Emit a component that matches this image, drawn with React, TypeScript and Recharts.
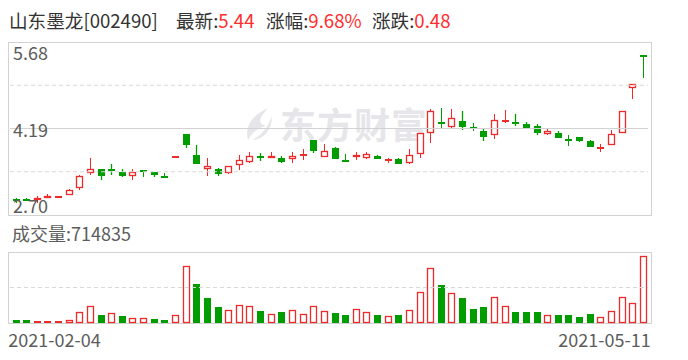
import React from 'react';
import { BarChart, Bar, XAxis, YAxis, ReferenceLine } from 'recharts';

// 山东墨龙 002490 日K, 2021-02-04 ~ 2021-05-11
const dates = [
  '2021-02-04', '2021-02-05', '2021-02-08', '2021-02-09', '2021-02-10', '2021-02-18', '2021-02-19', '2021-02-22',
  '2021-02-23', '2021-02-24', '2021-02-25', '2021-02-26', '2021-03-01', '2021-03-02', '2021-03-03', '2021-03-04',
  '2021-03-05', '2021-03-08', '2021-03-09', '2021-03-10', '2021-03-11', '2021-03-12', '2021-03-15', '2021-03-16',
  '2021-03-17', '2021-03-18', '2021-03-19', '2021-03-22', '2021-03-23', '2021-03-24', '2021-03-25', '2021-03-26',
  '2021-03-29', '2021-03-30', '2021-03-31', '2021-04-01', '2021-04-02', '2021-04-06', '2021-04-07', '2021-04-08',
  '2021-04-09', '2021-04-12', '2021-04-13', '2021-04-14', '2021-04-15', '2021-04-16', '2021-04-19', '2021-04-20',
  '2021-04-21', '2021-04-22', '2021-04-23', '2021-04-26', '2021-04-27', '2021-04-28', '2021-04-29', '2021-04-30',
  '2021-05-06', '2021-05-07', '2021-05-10', '2021-05-11',
];

const openPrices = [
  2.97, 2.97, 2.95, 3.00, 3.02, 3.04, 3.16, 3.43, 3.50, 3.50,
  3.44, 3.37, 3.48, 3.44, 3.38, 3.70, 4.10, 3.73, 3.50, 3.50,
  3.43, 3.56, 3.61, 3.72, 3.69, 3.68, 3.66, 3.74, 3.99, 3.70,
  3.85, 3.65, 3.70, 3.69, 3.72, 3.65, 3.66, 3.59, 3.75, 4.12,
  4.31, 4.21, 4.32, 4.22, 4.15, 4.07, 4.32, 4.30, 4.27, 4.23,
  4.10, 4.11, 4.01, 4.04, 3.97, 3.86, 3.91, 4.11, 4.88, 5.46,
];
const highPrices = [
  3.00, 2.99, 3.02, 3.06, 3.03, 3.15, 3.39, 3.69, 3.50, 3.58,
  3.49, 3.49, 3.48, 3.44, 3.43, 3.71, 4.10, 3.91, 3.68, 3.51,
  3.55, 3.73, 3.78, 3.76, 3.79, 3.72, 3.79, 3.84, 3.99, 3.92,
  3.87, 3.75, 3.78, 3.79, 3.73, 3.69, 3.68, 3.83, 4.11, 4.53,
  4.54, 4.53, 4.49, 4.28, 4.18, 4.44, 4.51, 4.44, 4.30, 4.27,
  4.20, 4.14, 4.08, 4.04, 3.99, 3.92, 4.16, 4.50, 4.96, 5.46,
];
const lowPrices = [
  2.92, 2.95, 2.91, 3.00, 3.02, 3.04, 3.13, 3.39, 3.30, 3.39,
  3.35, 3.31, 3.38, 3.36, 3.37, 3.70, 3.86, 3.57, 3.38, 3.38,
  3.40, 3.47, 3.59, 3.63, 3.69, 3.60, 3.60, 3.66, 3.77, 3.70,
  3.66, 3.64, 3.64, 3.66, 3.66, 3.61, 3.57, 3.57, 3.69, 3.94,
  4.20, 4.19, 4.17, 4.16, 3.98, 4.01, 4.31, 4.24, 4.19, 4.08,
  4.08, 4.03, 3.91, 3.95, 3.87, 3.81, 3.91, 4.11, 4.69, 5.07,
];
const closePrices = [
  2.96, 2.95, 2.99, 3.02, 3.02, 3.13, 3.37, 3.49, 3.38, 3.45,
  3.37, 3.44, 3.45, 3.39, 3.37, 3.71, 3.91, 3.58, 3.54, 3.41,
  3.54, 3.64, 3.72, 3.69, 3.72, 3.61, 3.72, 3.75, 3.80, 3.80,
  3.67, 3.64, 3.73, 3.75, 3.66, 3.66, 3.57, 3.73, 4.11, 4.50,
  4.30, 4.37, 4.22, 4.21, 4.05, 4.33, 4.33, 4.27, 4.20, 4.12,
  4.15, 4.03, 4.00, 3.97, 3.87, 3.87, 4.09, 4.50, 4.96, 5.44,
];
const volumes = [
  17000, 17000, 13000, 13000, 13000, 35000, 117000, 180000, 78000, 106000,
  67000, 53000, 53000, 35000, 24000, 85000, 609000, 407000, 258000, 163000,
  138000, 191000, 180000, 120000, 96000, 109000, 141000, 96000, 180000, 131000,
  96000, 78000, 149000, 117000, 78000, 74000, 78000, 138000, 329000, 584000,
  396000, 319000, 258000, 141000, 163000, 276000, 180000, 109000, 109000, 109000,
  85000, 78000, 78000, 56000, 88000, 64000, 127000, 276000, 212000, 714835,
];
const firstPrevClose = 2.98;

const priceTicks = [2.7, 4.19, 5.68];
const priceDashed = [3.445, 4.935];
const volumeMax = 758000;

const RED = '#ee2b2b';
const GREEN = '#009c00';
const TEXT_RED = '#ff2d2d';
const FONT = '"Noto Sans CJK SC", "Microsoft YaHei", sans-serif';

const data = dates.map((date, i) => ({
  date,
  open: openPrices[i],
  high: highPrices[i],
  low: lowPrices[i],
  close: closePrices[i],
  volume: volumes[i],
  volUp: closePrices[i] >= (i === 0 ? firstPrevClose : closePrices[i - 1]),
}));

const Candle = (props: any) => {
  const { x, y, width, height, payload } = props;
  const { open, close, high, low } = payload;
  const color = close >= open ? RED : GREEN;
  const k = height / (high - low);
  const py = (v: number) => Math.round(y + (high - v) * k);
  const cx = Math.round(x + width / 2);
  const wx = cx + 0.5;
  const top = py(Math.max(open, close));
  const bot = py(Math.min(open, close));
  const yH = py(high);
  const yL = py(low);

  if (bot - top < 2) {
    return (
      <g>
        {yL > yH && <line x1={wx} x2={wx} y1={yH} y2={yL + 1} stroke={color} />}
        <rect x={cx - 3} y={top} width={7} height={2} fill={color} />
      </g>
    );
  }
  if (close >= open) {
    return (
      <g>
        {top > yH && <line x1={wx} x2={wx} y1={yH} y2={top} stroke={color} />}
        {yL > bot && <line x1={wx} x2={wx} y1={bot} y2={yL} stroke={color} />}
        <rect x={cx - 2.5} y={top + 0.5} width={6} height={bot - top - 1} fill="#fff" stroke={color} strokeWidth={1.3} />
      </g>
    );
  }
  return (
    <g>
      <line x1={wx} x2={wx} y1={yH} y2={yL} stroke={color} strokeWidth={1.3} />
      <rect x={cx - 3} y={top} width={7} height={bot - top} fill={color} />
    </g>
  );
};

const VolumeBar = (props: any) => {
  const { x, y, width, height, payload } = props;
  const cx = Math.round(x + width / 2);
  const top = Math.round(y);
  const bot = Math.round(y + height);
  if (payload.volUp) {
    if (bot - top < 3) return <rect x={cx - 3} y={top - 1} width={7} height={bot - top + 1} fill={RED} />;
    return <rect x={cx - 2.5} y={top + 0.5} width={6} height={bot - top - 1} fill="#fff" stroke={RED} strokeWidth={1.3} />;
  }
  return <rect x={cx - 3} y={top - 1} width={7} height={bot - top + 1} fill={GREEN} />;
};

const PriceTick = (props: any) => {
  const { x, y, payload } = props;
  const v = Number(payload.value);
  // bottom label sits above the border, top label below it, middle one on the line
  const dy = v === priceTicks[0] ? -2 : v === priceTicks[priceTicks.length - 1] ? 18 : 8;
  return (
    <text x={x + 3} y={y} dy={dy} fill="#5c5c5c" fontSize={18} fontFamily={FONT} textAnchor="start">
      {v.toFixed(2)}
    </text>
  );
};

const DateTick = (props: any) => {
  const { x, y, payload } = props;
  const first = payload.value === dates[0];
  return (
    <text x={first ? x - 7 : x + 8} y={y} dy={24} fill="#5c5c5c" fontSize={18} fontFamily={FONT} textAnchor={first ? 'start' : 'end'}>
      {payload.value}
    </text>
  );
};

const abs = (left: number, top: number): React.CSSProperties => ({ position: 'absolute', left, top });
const headStyle: React.CSSProperties = { fontSize: 18.6, lineHeight: '18px', color: '#333', whiteSpace: 'nowrap' };

export default function App() {
  return (
    <div style={{ position: 'absolute', left: 0, top: 0, width: 688, height: 360, background: '#fff', fontFamily: FONT, overflow: 'hidden' }}>
      {/* header */}
      <div style={{ ...abs(9, 11), ...headStyle }}>山东墨龙[002490]</div>
      <div style={{ ...abs(176, 11), ...headStyle }}>
        最新:<span style={{ color: TEXT_RED }}>5.44</span>
      </div>
      <div style={{ ...abs(266, 11), ...headStyle }}>
        涨幅:<span style={{ color: TEXT_RED }}>9.68%</span>
      </div>
      <div style={{ ...abs(372, 11), ...headStyle }}>
        涨跌:<span style={{ color: TEXT_RED }}>0.48</span>
      </div>

      {/* watermark */}
      <div style={{ ...abs(280, 105), fontSize: 36, lineHeight: '36px', fontWeight: 700, color: '#e6e6ea', letterSpacing: 1 }}>东方财富</div>
      <svg style={abs(238, 106)} width={38} height={36}>
        <path d="M30 2 C16 8 6 20 10 34 C14 26 20 22 28 20 C22 18 18 16 30 2 Z" fill="#e6e6ea" />
        <path d="M34 10 C30 20 26 28 14 34 C24 34 34 26 34 10 Z" fill="#e6e6ea" />
      </svg>

      {/* price panel: plot area spans y 42..215 */}
      <div style={{ ...abs(8, 42), width: 644, height: 174, border: '1px solid #d2d2d2', boxSizing: 'border-box' }} />
      <div style={abs(8, 36)}>
        <BarChart width={644} height={188} data={data} margin={{ top: 6, right: 4, bottom: 9, left: 2 }} barSize={7}>
          <XAxis dataKey="date" hide />
          <YAxis
            domain={[priceTicks[0], priceTicks[priceTicks.length - 1]]}
            ticks={priceTicks}
            interval={0}
            mirror
            axisLine={false}
            tickLine={false}
            tickSize={0}
            tickMargin={0}
            tick={<PriceTick />}
            allowDataOverflow
          />
          <ReferenceLine y={priceTicks[1]} stroke="#d2d2d2" />
          {priceDashed.map((v) => (
            <ReferenceLine key={v} y={v} stroke="#d8d8d8" strokeDasharray="4 3" />
          ))}
          <Bar dataKey={(d: any) => [d.low, d.high]} shape={<Candle />} isAnimationActive={false} />
        </BarChart>
      </div>

      {/* volume panel */}
      <div style={{ ...abs(12, 223), fontSize: 18, lineHeight: '20px', color: '#5c5c5c', whiteSpace: 'nowrap' }}>
        成交量:{volumes[volumes.length - 1]}
      </div>
      <div style={{ ...abs(8, 252), width: 644, height: 72, border: '1px solid #d2d2d2', boxSizing: 'border-box' }} />
      <div style={abs(8, 252)}>
        <BarChart width={644} height={107} data={data} margin={{ top: 0, right: 4, bottom: 0, left: 2 }} barSize={7}>
          <XAxis
            dataKey="date"
            height={36}
            ticks={[dates[0], dates[dates.length - 1]]}
            interval={0}
            axisLine={false}
            tickLine={false}
            tickSize={0}
            tickMargin={0}
            tick={<DateTick />}
          />
          <YAxis domain={[0, volumeMax]} hide />
          <ReferenceLine y={volumeMax / 2} stroke="#d8d8d8" strokeDasharray="4 3" />
          <Bar dataKey="volume" shape={<VolumeBar />} isAnimationActive={false} />
        </BarChart>
      </div>
    </div>
  );
}
